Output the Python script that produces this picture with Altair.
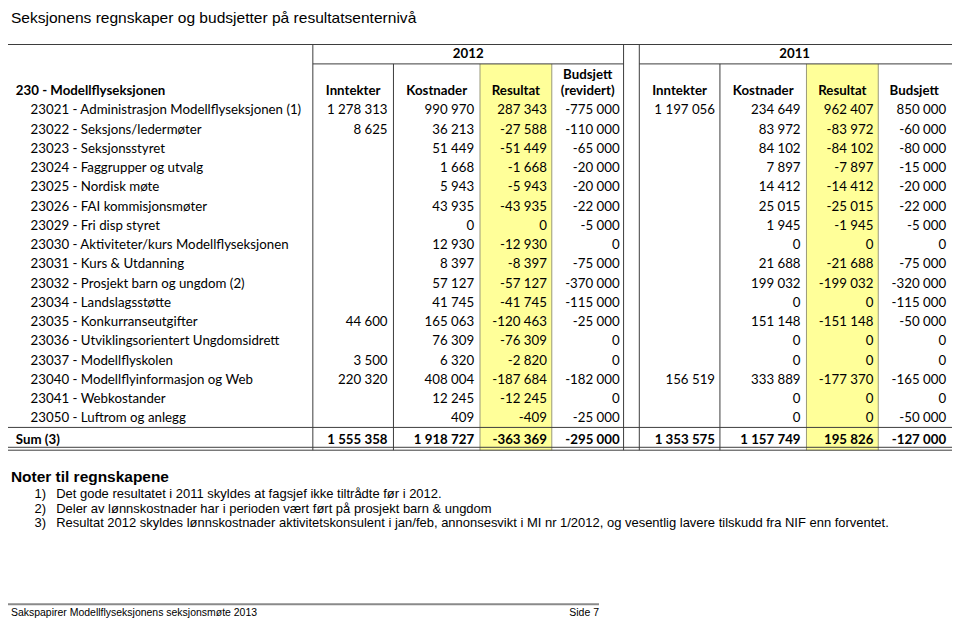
import altair as alt
import pandas as pd

# ---------------- data ----------------
TITLE = "Seksjonens regnskaper og budsjetter på resultatsenternivå"
SECTION = "230 - Modellflyseksjonen"
YEARS = ["2012", "2011"]
HEAD_2012 = ["Inntekter", "Kostnader", "Resultat", "Budsjett"]
HEAD_2011 = ["Inntekter", "Kostnader", "Resultat", "Budsjett"]
HEAD_2012_SUB = "(revidert)"

labels = [
    "23021 - Administrasjon Modellflyseksjonen (1)",
    "23022 - Seksjons/ledermøter",
    "23023 - Seksjonsstyret",
    "23024 - Faggrupper og utvalg",
    "23025 - Nordisk møte",
    "23026 - FAI kommisjonsmøter",
    "23029 - Fri disp styret",
    "23030 - Aktiviteter/kurs Modellflyseksjonen",
    "23031 - Kurs & Utdanning",
    "23032 - Prosjekt barn og ungdom (2)",
    "23034 - Landslagsstøtte",
    "23035 - Konkurranseutgifter",
    "23036 - Utviklingsorientert Ungdomsidrett",
    "23037 - Modellflyskolen",
    "23040 - Modellflyinformasjon og Web",
    "23041 - Webkostander",
    "23050 - Luftrom og anlegg",
]
inntekter_2012 = [1278313, 8625, None, None, None, None, None, None, None, None,
                  None, 44600, None, 3500, 220320, None, None]
kostnader_2012 = [990970, 36213, 51449, 1668, 5943, 43935, 0, 12930, 8397, 57127,
                  41745, 165063, 76309, 6320, 408004, 12245, 409]
resultat_2012 = [287343, -27588, -51449, -1668, -5943, -43935, 0, -12930, -8397, -57127,
                 -41745, -120463, -76309, -2820, -187684, -12245, -409]
budsjett_2012 = [-775000, -110000, -65000, -20000, -20000, -22000, -5000, 0, -75000, -370000,
                 -115000, -25000, 0, 0, -182000, 0, -25000]
inntekter_2011 = [1197056, None, None, None, None, None, None, None, None, None,
                  None, None, None, None, 156519, None, None]
kostnader_2011 = [234649, 83972, 84102, 7897, 14412, 25015, 1945, 0, 21688, 199032,
                  0, 151148, 0, 0, 333889, 0, 0]
resultat_2011 = [962407, -83972, -84102, -7897, -14412, -25015, -1945, 0, -21688, -199032,
                 0, -151148, 0, 0, -177370, 0, 0]
budsjett_2011 = [850000, -60000, -80000, -15000, -20000, -22000, -5000, 0, -75000, -320000,
                 -115000, -50000, 0, 0, -165000, 0, -50000]
SUM_LABEL = "Sum (3)"
sums = [1555358, 1918727, -363369, -295000, 1353575, 1157749, 195826, -127000]

NOTES_TITLE = "Noter til regnskapene"
note_nums = ["1)", "2)", "3)"]
notes = [
    "Det gode resultatet i 2011 skyldes at fagsjef ikke tiltrådte før i 2012.",
    "Deler av lønnskostnader har i perioden vært ført på prosjekt barn & ungdom",
    "Resultat 2012 skyldes lønnskostnader aktivitetskonsulent i jan/feb, annonsesvikt i MI nr 1/2012, og vesentlig lavere tilskudd fra NIF enn forventet.",
]
FOOTER_LEFT = "Sakspapirer Modellflyseksjonens seksjonsmøte 2013"
FOOTER_RIGHT = "Side 7"

# ---------------- layout (reference pixel space 960 x 630) ----------------
W, H = 946, 612
COLS = [(310, 392), (392, 480), (480, 553), (553, 626),
        (642, 724), (724, 812), (812, 885), (885, 958)]
NUM_PAD = [6, 6, 5, 4, 5, 6, 5, 4]
ROW0, ROW_STEP = 105, 19.85
SUM_Y = 445
YEAR_Y, HEAD_Y, HEAD_Y1 = 47, 85, 68
TOP, YEAR_LINE, SUM_LINE, BOT1, BOT2 = 37, 57, 432, 452.5, 455.5
NOTE_Y0, NOTE_STEP = 500.5, 15.3
FOOT_LINE_Y, FOOT_Y = 614.5, 623
TABLE_FONT = "Lato"
TFS = 13.3
SANS = "Liberation Sans"
LINE = "#3c3c3c"

X = alt.Scale(domain=[0, 960], range=[0, W])
Y = alt.Scale(domain=[0, 630], range=[0, H])


def fmt(v):
    return f"{v:,}".replace(",", " ")


def text_layer(rows, baseline="middle", **kw):
    df_ = pd.DataFrame(rows, columns=["x", "y", "t"])
    return alt.Chart(df_).mark_text(baseline=baseline, **kw).encode(
        x=alt.X("x:Q", scale=X, axis=None),
        y=alt.Y("y:Q", scale=Y, axis=None),
        text=alt.Text("t:N"),
    )


series = [inntekter_2012, kostnader_2012, resultat_2012, budsjett_2012,
          inntekter_2011, kostnader_2011, resultat_2011, budsjett_2011]

num_rows = []
for c, ser in enumerate(series):
    for i, v in enumerate(ser):
        if v is not None:
            num_rows.append((COLS[c][1] - NUM_PAD[c], ROW0 + i * ROW_STEP, fmt(v)))
sum_rows = [(COLS[c][1] - NUM_PAD[c], SUM_Y, fmt(v)) for c, v in enumerate(sums)]
label_rows = [(23, ROW0 + i * ROW_STEP, t) for i, t in enumerate(labels)]
head_rows = []
for c, t in enumerate(HEAD_2012 + HEAD_2011):
    cx = (COLS[c][0] + COLS[c][1]) / 2
    head_rows.append((cx, HEAD_Y1 if c == 3 else HEAD_Y, t))
head_rows.append(((COLS[3][0] + COLS[3][1]) / 2, HEAD_Y, HEAD_2012_SUB))
head_rows.append(((COLS[0][0] + COLS[3][1]) / 2, YEAR_Y, YEARS[0]))
head_rows.append(((COLS[4][0] + COLS[7][1]) / 2, YEAR_Y, YEARS[1]))
left_bold = [(8, HEAD_Y, SECTION), (8, SUM_Y, SUM_LABEL)]

# yellow result columns
rect_df = pd.DataFrame([
    dict(x=COLS[2][0], x2=COLS[2][1], y=YEAR_LINE, y2=BOT2),
    dict(x=COLS[6][0], x2=COLS[6][1], y=YEAR_LINE, y2=BOT2),
])
rects = alt.Chart(rect_df).mark_rect(color="#FFFF99").encode(
    x=alt.X("x:Q", scale=X, axis=None), x2="x2:Q",
    y=alt.Y("y:Q", scale=Y, axis=None), y2="y2:Q",
)

# grid lines
dark = [
    (0, 960, TOP, TOP), (COLS[0][0], COLS[3][1], YEAR_LINE, YEAR_LINE),
    (COLS[4][0], 960, YEAR_LINE, YEAR_LINE),
    (0, 960, SUM_LINE, SUM_LINE), (0, 960, BOT1, BOT1), (0, 960, BOT2, BOT2),
    (COLS[0][0], COLS[0][0], TOP, BOT2), (COLS[3][1], COLS[3][1], TOP, BOT2),
    (COLS[4][0], COLS[4][0], TOP, BOT2),
    (COLS[1][0], COLS[1][0], YEAR_LINE, BOT2), (COLS[5][0], COLS[5][0], YEAR_LINE, BOT2),
]
light = [
    (COLS[2][0], COLS[2][0], YEAR_LINE, BOT2), (COLS[2][1], COLS[2][1], YEAR_LINE, BOT2),
    (COLS[6][0], COLS[6][0], YEAR_LINE, BOT2), (COLS[6][1], COLS[6][1], YEAR_LINE, BOT2),
]


def rule_layer(segs, color, width=1):
    df_ = pd.DataFrame(segs, columns=["x", "x2", "y", "y2"])
    return alt.Chart(df_).mark_rule(color=color, strokeWidth=width).encode(
        x=alt.X("x:Q", scale=X, axis=None), x2="x2:Q",
        y=alt.Y("y:Q", scale=Y, axis=None), y2="y2:Q",
    )


footer_line = rule_layer([(0, 601, FOOT_LINE_Y, FOOT_LINE_Y)], "#8a8a8a", 2)

layers = [
    rects,
    rule_layer(light, "#9a9a7a"),
    rule_layer(dark, LINE),
    footer_line,
    text_layer([(3, 15, TITLE)], font=SANS, fontSize=15.6, align="left", baseline="alphabetic", color="#000"),
    text_layer(label_rows, font=TABLE_FONT, fontSize=TFS, align="left", color="#000"),
    text_layer(num_rows, font=TABLE_FONT, fontSize=TFS, align="right", color="#000"),
    text_layer(sum_rows, font=TABLE_FONT, fontSize=TFS, align="right", fontWeight="bold", color="#000"),
    text_layer(head_rows, font=TABLE_FONT, fontSize=TFS, align="center", fontWeight="bold", color="#000"),
    text_layer(left_bold, font=TABLE_FONT, fontSize=TFS, align="left", fontWeight="bold", color="#000"),
    text_layer([(3, 483, NOTES_TITLE)], font=SANS, fontSize=15.5, align="left", fontWeight="bold", color="#000"),
    text_layer([(27, NOTE_Y0 + NOTE_STEP * i, n) for i, n in enumerate(note_nums)],
               font=SANS, fontSize=13, align="left", color="#000"),
    text_layer([(49, NOTE_Y0 + NOTE_STEP * i, n) for i, n in enumerate(notes)],
               font=SANS, fontSize=13, align="left", color="#000"),
    text_layer([(3, FOOT_Y, FOOTER_LEFT)], font=SANS, fontSize=10.5, align="left", color="#000"),
    text_layer([(601, FOOT_Y, FOOTER_RIGHT)], font=SANS, fontSize=10.5, align="right", color="#000"),
]

chart = alt.layer(*layers).properties(
    width=W, height=H, padding=0,
    autosize=alt.AutoSizeParams(type="none"),
).configure_view(stroke=None)

chart.save("out.html", embed_options={"renderer": "svg", "actions": False})
